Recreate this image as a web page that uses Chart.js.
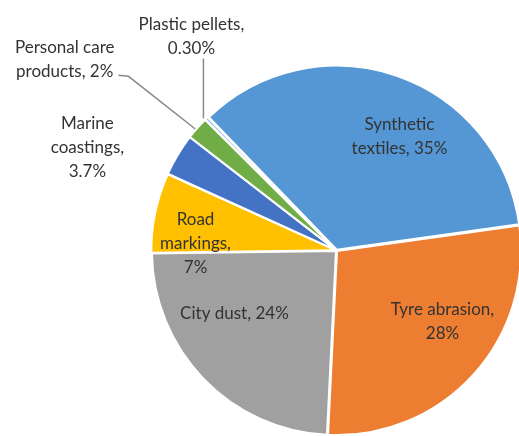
<!DOCTYPE html>
<html lang="en">
<head>
<meta charset="UTF-8">
<title>Microplastic sources</title>
<script src="https://cdn.jsdelivr.net/npm/chart.js"></script>
<style>
    body {
        margin: 0;
        background: #ffffff;
        overflow: hidden;
    }
    #wrap {
        position: absolute;
        left: 0;
        top: 0;
        width: 523px;
        height: 437px;
    }
</style>
</head>
<body>
<div id="wrap"><canvas id="pieChart" width="523" height="437"></canvas></div>
<script>
    const categories = ['Synthetic textiles', 'Tyre abrasion', 'City dust', 'Road markings',
        'Marine coastings', 'Personal care products', 'Plastic pellets'];
    const shares = [35, 28, 24, 7, 3.7, 2, 0.3];
    const shareText = ['35%', '28%', '24%', '7%', '3.7%', '2%', '0.30%'];
    const labelLines = [
        ['Synthetic', 'textiles, 35%'],
        ['Tyre abrasion,', '28%'],
        ['City dust, 24%'],
        ['Road', 'markings,', '7%'],
        ['Marine', 'coastings,', '3.7%'],
        ['Personal care', 'products, 2%'],
        ['Plastic pellets,', '0.30%']
    ];
    const sliceColors = ['#5497D4', '#ED7D31', '#A0A0A0', '#FFC000', '#4472C4', '#70AD47', '#9DC3E6'];

    // where each label sits: fraction of radius, turn (deg) from slice middle
    const labelPlace = [
        { r: 0.708, turn: 9.9 },
        { r: 0.693, turn: -8.6 },
        { r: 0.652, turn: 12.3 },
        { r: 0.767, turn: -9 },
        { r: 1.465, turn: -8.6 },
        { r: 1.806, turn: -6.2, leader: 'elbow' },
        { r: 1.405, turn: 10.4, leader: 'up' }
    ];
    const lineH = 24;

    const sliceLabels = {
        id: 'sliceLabels',
        afterDatasetsDraw(chart) {
            const ctx = chart.ctx;
            const arcs = chart.getDatasetMeta(0).data;
            ctx.save();
            ctx.font = '17px Lato';
            ctx.textAlign = 'center';
            ctx.textBaseline = 'middle';
            arcs.forEach((arc, i) => {
                const p = arc.getProps(['x', 'y', 'startAngle', 'endAngle', 'outerRadius'], true);
                const place = labelPlace[i];
                const mid = (p.startAngle + p.endAngle) / 2;
                const a = mid + place.turn * Math.PI / 180;
                const cx = p.x + Math.cos(a) * p.outerRadius * place.r;
                const cy = p.y + Math.sin(a) * p.outerRadius * place.r;
                const lines = labelLines[i];
                const top = cy - (lines.length - 1) * lineH / 2;
                ctx.fillStyle = '#333333';
                lines.forEach((t, k) => ctx.fillText(t, cx, top + k * lineH));

                if (place.leader) {
                    const ex = p.x + Math.cos(mid) * p.outerRadius;
                    const ey = p.y + Math.sin(mid) * p.outerRadius;
                    ctx.strokeStyle = '#8a8a8a';
                    ctx.lineWidth = 1.5;
                    ctx.beginPath();
                    if (place.leader === 'up') {
                        ctx.moveTo(ex - 4, ey - 1);
                        ctx.lineTo(ex - 4, top + (lines.length - 1) * lineH + 10);
                    } else {
                        const w = Math.max(...lines.map(t => ctx.measureText(t).width));
                        const lx = cx + w / 2 + 4;
                        const ly = top + (lines.length - 1) * lineH + 4;
                        ctx.moveTo(ex - 3, ey);
                        ctx.lineTo(lx + 10, ly + 1);
                        ctx.lineTo(lx, ly);
                    }
                    ctx.stroke();
                }
            });
            ctx.restore();
        }
    };

    new Chart(document.getElementById('pieChart').getContext('2d'), {
        type: 'pie',
        data: {
            labels: categories,
            datasets: [{
                data: shares,
                backgroundColor: sliceColors,
                borderColor: '#ffffff',
                borderWidth: 2,
                offset: 3
            }]
        },
        options: {
            responsive: false,
            animation: false,
            rotation: -44,
            layout: {
                padding: { left: 150, top: 64, right: 0, bottom: 0 }
            },
            plugins: {
                legend: { display: false },
                tooltip: { enabled: false }
            }
        },
        plugins: [sliceLabels]
    });
</script>
</body>
</html>
